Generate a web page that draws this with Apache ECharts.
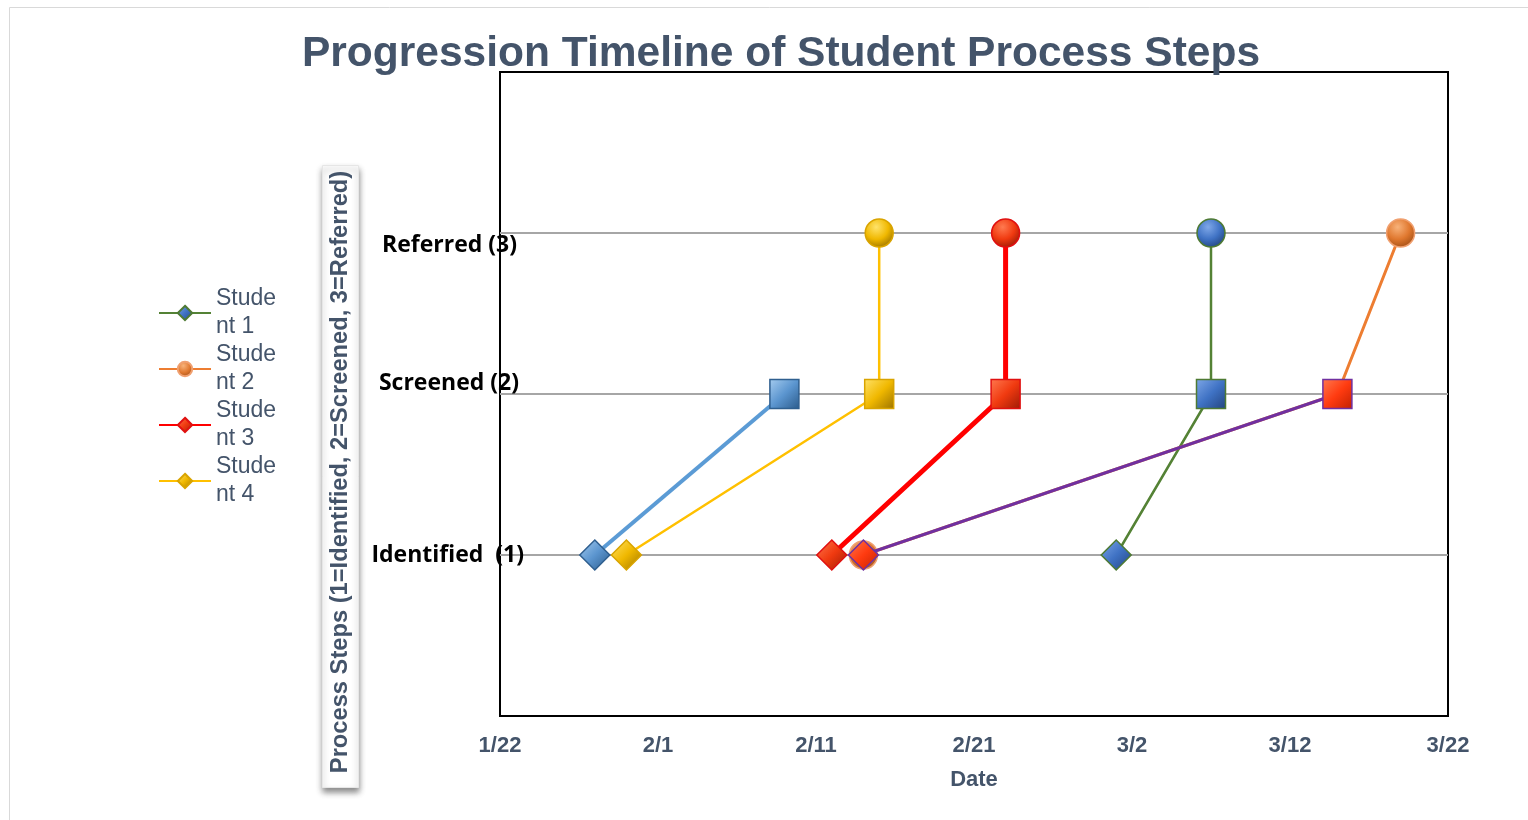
<!DOCTYPE html>
<html>
<head>
<meta charset="utf-8">
<script src="https://cdn.jsdelivr.net/npm/echarts@6/dist/echarts.min.js"></script>
<style>
html,body{margin:0;padding:0;background:#fff;}
#chart{width:1528px;height:820px;}
</style>
</head>
<body>
<div id="chart"></div>
<script>
// ---- data ----
var yearBase = 2024;
var startDate = '1/22';
var xTickStep = 10;      // days
var xSpanDays = 60;      // 1/22 -> 3/22
var stepLabels = ['', 'Identified  (1)', 'Screened (2)', 'Referred (3)', ''];
var seriesNames = ['Student 1', 'Student 2', 'Student 3', 'Student 4', 'Student 5', 'Student 6'];
var legendNames = ['Student 1', 'Student 2', 'Student 3', 'Student 4'];

var student1Dates = ['3/1', '3/7', '3/7'];
var student1Steps = [1, 2, 3];
var student2Dates = ['2/14', '3/15', '3/19'];
var student2Steps = [1, 2, 3];
var student3Dates = ['2/12', '2/23', '2/23'];
var student3Steps = [1, 2, 3];
var student4Dates = ['1/30', '2/15', '2/15'];
var student4Steps = [1, 2, 3];
var student5Dates = ['1/28', '2/9'];
var student5Steps = [1, 2];
var student6Dates = ['2/14', '3/15'];
var student6Steps = [1, 2];

// ---- helpers ----
function dayOffset(md) {
  var p = md.split('/');
  var s = startDate.split('/');
  return (Date.UTC(yearBase, +p[0] - 1, +p[1]) - Date.UTC(yearBase, +s[0] - 1, +s[1])) / 86400000;
}
function offsetLabel(v) {
  var s = startDate.split('/');
  var d = new Date(Date.UTC(yearBase, +s[0] - 1, +s[1]) + v * 86400000);
  return (d.getUTCMonth() + 1) + '/' + d.getUTCDate();
}
function symFor(step, circlesOnly) {
  if (circlesOnly) return 'circle';
  return step === 1 ? 'diamond' : (step === 2 ? 'rect' : 'circle');
}
function sizeFor(step, circlesOnly) {
  var s = symFor(step, circlesOnly);
  return s === 'diamond' ? 30 : (s === 'rect' ? 29 : 28);
}
function grad(light, mid, dark, isCircle) {
  if (isCircle) {
    return new echarts.graphic.RadialGradient(0.4, 0.3, 0.75, [
      {offset: 0, color: light}, {offset: 0.55, color: mid}, {offset: 1, color: dark}
    ]);
  }
  return new echarts.graphic.LinearGradient(0, 0, 1, 1, [
    {offset: 0, color: light}, {offset: 0.5, color: mid}, {offset: 1, color: dark}
  ]);
}
var styles = [
  {line: '#548235', w: 2.5, fill: ['#7fa8e8', '#3f72c4', '#22437d'], border: '#4e7a33'},
  {line: '#ED7D31', w: 3,   fill: ['#f8b27a', '#e0782f', '#a04d14'], border: '#f0a070'},
  {line: '#FF0000', w: 5,   fill: ['#ff7a50', '#f03a10', '#9c1a05'], border: '#e01010'},
  {line: '#FFC000', w: 2.5, fill: ['#ffe36a', '#f0b800', '#9a7200'], border: '#d9a400'},
  {line: '#5B9BD5', w: 4,   fill: ['#a7cdf0', '#5b95cf', '#2a5a8a'], border: '#2f5f8f'},
  {line: '#7030A0', w: 3,   fill: ['#ff7a50', '#ff3b10', '#c02000'], border: '#7030A0'}
];
var dateSets = [student1Dates, student2Dates, student3Dates, student4Dates, student5Dates, student6Dates];
var stepSets = [student1Steps, student2Steps, student3Steps, student4Steps, student5Steps, student6Steps];

var series = seriesNames.map(function (name, k) {
  var st = styles[k];
  var circlesOnly = (k === 1);
  var data = dateSets[k].map(function (d, i) {
    var step = stepSets[k][i];
    var sym = symFor(step, circlesOnly);
    return {
      value: [dayOffset(d), step],
      symbol: sym,
      symbolSize: sizeFor(step, circlesOnly),
      itemStyle: {color: grad(st.fill[0], st.fill[1], st.fill[2], sym === 'circle')}
    };
  });
  return {
    name: name,
    type: 'line',
    data: data,
    symbol: circlesOnly ? 'circle' : 'diamond',
    symbolSize: circlesOnly ? 18 : 20,
    showAllSymbol: true,
    lineStyle: {color: st.line, width: st.w},
    itemStyle: {color: grad(st.fill[0], st.fill[1], st.fill[2], circlesOnly), borderColor: st.border, borderWidth: 1.5, opacity: 1},
    emphasis: {disabled: true},
    z: 2 + k,
    animation: false
  };
});

var chart = echarts.init(document.getElementById('chart'));
chart.setOption({
  animation: false,
  backgroundColor: '#ffffff',
  title: {
    text: 'Progression Timeline of Student Process Steps',
    left: 776, top: 28, textAlign: 'center',
    textStyle: {fontFamily: '"Liberation Sans", Arial, sans-serif', fontWeight: 'bold', fontSize: 42.5, color: '#44546A'}
  },
  legend: {
    data: legendNames,
    orient: 'vertical',
    left: 153, top: 266,
    itemWidth: 52, itemHeight: 18, itemGap: -28,
    selectedMode: false,
    formatter: function (n) { return n.slice(0, 5) + '\n' + n.slice(5); },
    textStyle: {fontFamily: '"Liberation Sans", Arial, sans-serif', fontSize: 23, color: '#44546A', lineHeight: 28, padding: [28, 0, 0, 0]}
  },
  grid: {left: 500, right: 80, top: 72, bottom: 104, show: true, borderColor: '#000', borderWidth: 2, backgroundColor: 'transparent'},
  xAxis: {
    type: 'value', min: 0, max: xSpanDays, interval: xTickStep,
    name: 'Date', nameLocation: 'middle', nameGap: 53,
    nameTextStyle: {fontFamily: '"Liberation Sans", Arial, sans-serif', fontWeight: 'bold', fontSize: 22, color: '#44546A'},
    axisLine: {show: false}, axisTick: {show: false}, splitLine: {show: false},
    axisLabel: {formatter: offsetLabel, margin: 19, fontFamily: '"Liberation Sans", Arial, sans-serif', fontWeight: 'bold', fontSize: 22, color: '#44546A'}
  },
  yAxis: {
    type: 'value', min: 0, max: 4, interval: 1,
    name: 'Process Steps (1=Identified, 2=Screened, 3=Referred)',
    nameLocation: 'middle', nameGap: 148, nameRotate: 90,
    nameTextStyle: {fontFamily: '"Liberation Sans", Arial, sans-serif', fontWeight: 'bold', fontSize: 23.7, color: '#44546A', padding: [0, 156, 0, 0]},
    axisLine: {show: false}, axisTick: {show: false},
    splitLine: {show: true, lineStyle: {color: ['rgba(0,0,0,0)', '#A6A6A6', '#A6A6A6', '#A6A6A6', 'rgba(0,0,0,0)'], width: 2}},
    axisLabel: {
      margin: -24,
      formatter: function (v) {
        var t = stepLabels[v] || '';
        if (!t) return '';
        return '{s' + v + '|' + t + '}';
      },
      rich: {
        s1: {fontFamily: '"Open Sans", Lato, sans-serif', fontWeight: 'bold', fontSize: 23, color: '#000', padding: [0, 0, 0, 0]},
        s2: {fontFamily: '"Open Sans", Lato, sans-serif', fontWeight: 'bold', fontSize: 23, color: '#000', padding: [0, 5, 22, 0]},
        s3: {fontFamily: '"Open Sans", Lato, sans-serif', fontWeight: 'bold', fontSize: 23, color: '#000', padding: [24, 7, 0, 0]}
      }
    }
  },
  graphic: [
    {type: 'rect', left: 7, top: 5, shape: {width: 1520, height: 813}, style: {fill: 'none', stroke: '#d9d9d9', lineWidth: 1}, z: -10, silent: true},
    {type: 'rect', left: 322, top: 165, shape: {width: 36, height: 622},
     style: {fill: '#ffffff', stroke: '#e6e6e6', lineWidth: 1, shadowBlur: 6, shadowOffsetX: 0, shadowOffsetY: 4, shadowColor: 'rgba(0,0,0,0.45)'}, z: -5, silent: true}
  ],
  series: series
});
</script>
</body>
</html>
